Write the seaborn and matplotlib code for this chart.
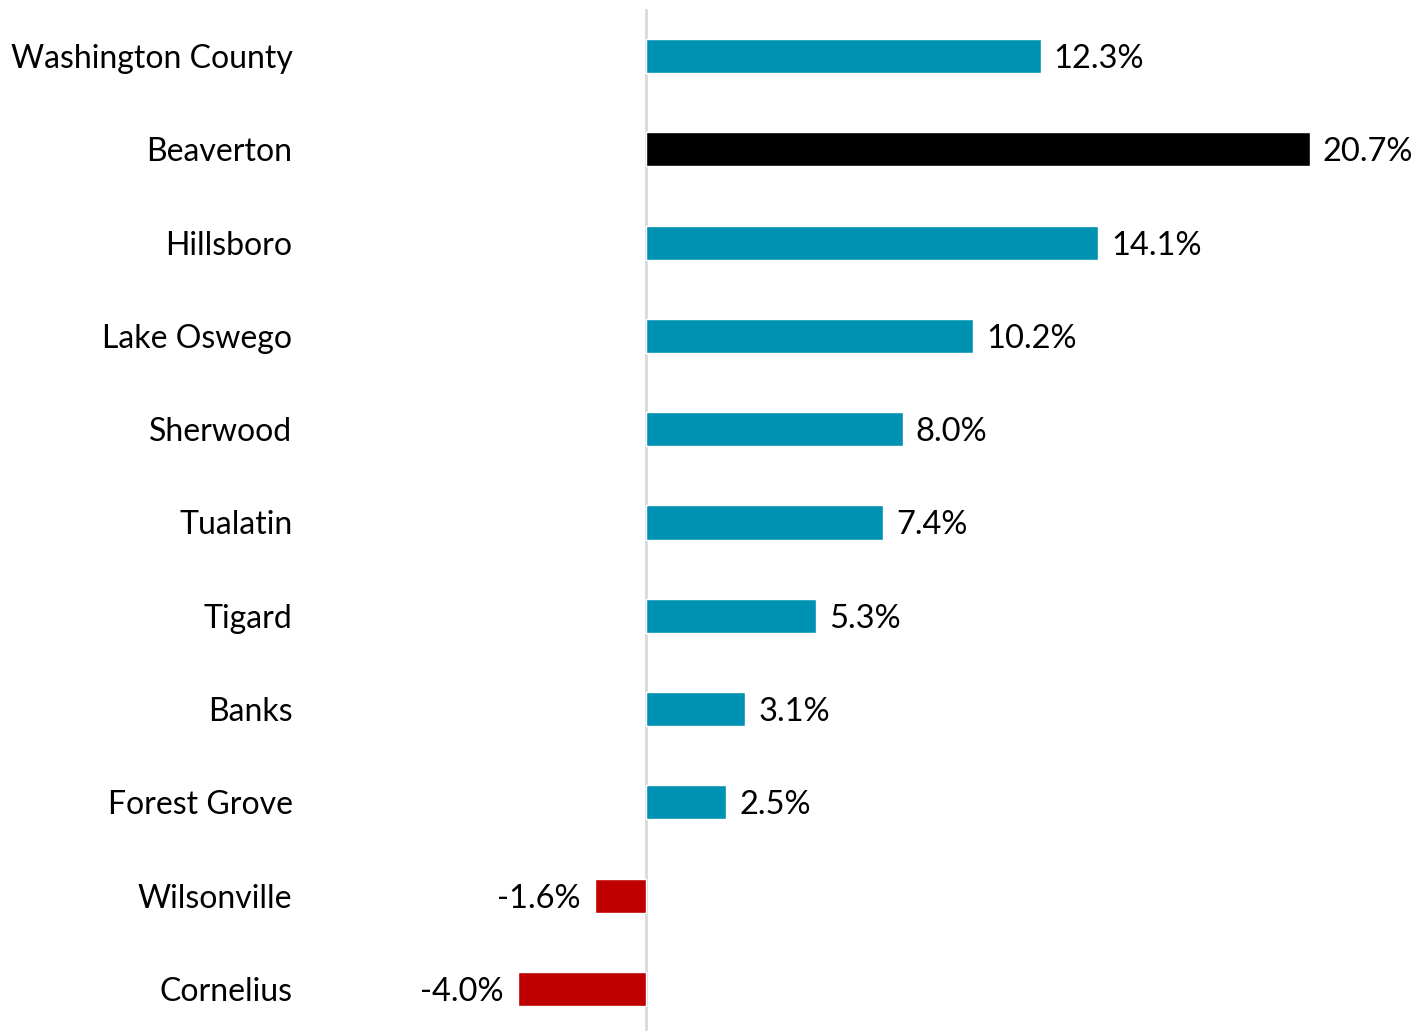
import seaborn as sns
import matplotlib.pyplot as plt
import pandas as pd

places = ['Washington County', 'Beaverton', 'Hillsboro', 'Lake Oswego', 'Sherwood',
          'Tualatin', 'Tigard', 'Banks', 'Forest Grove', 'Wilsonville', 'Cornelius']
change = [12.3, 20.7, 14.1, 10.2, 8.0, 7.4, 5.3, 3.1, 2.5, -1.6, -4.0]

TEAL = '#0092B3'
BLACK = '#000000'
RED = '#C00000'


def bar_color(name, v):
    if name == 'Beaverton':
        return BLACK
    return TEAL if v >= 0 else RED


def main():
    data = pd.DataFrame({'Place': places, 'Change': change})
    colors = [bar_color(p, v) for p, v in zip(places, change)]

    sns.set_theme(style='white')
    plt.rcParams['font.family'] = ['Lato', 'DejaVu Sans']

    fig = plt.figure(figsize=(14.2, 10.31), dpi=100)
    ax = fig.add_axes([305 / 1420, -4.65 / 1031, 1110 / 1420, 1026.3 / 1031])

    sns.barplot(data=data, y='Place', x='Change', hue='Place', palette=colors,
                legend=False, width=0.365, orient='h', ax=ax, saturation=1)

    ax.set_xlim(-10.63, 23.97)
    ax.set_ylim(10.5, -0.5)
    ax.axvline(0, color='#d9d9d9', lw=2, zorder=0)

    for i, v in enumerate(change):
        txt = f'{v:.1f}%'
        if v >= 0:
            ax.text(v + 0.4, i, txt, va='center_baseline', ha='left', fontsize=23.5, color='#000000')
        else:
            ax.text(v - 0.45, i, txt, va='center_baseline', ha='right', fontsize=23.5, color='#000000')

    ax.set_xticks([])
    ax.set_xlabel('')
    ax.set_ylabel('')
    ax.tick_params(axis='y', length=0, pad=9, labelsize=23, labelcolor='#000000')
    for s in ax.spines.values():
        s.set_visible(False)

    plt.savefig('out.png', dpi=100)


if __name__ == '__main__':
    main()
